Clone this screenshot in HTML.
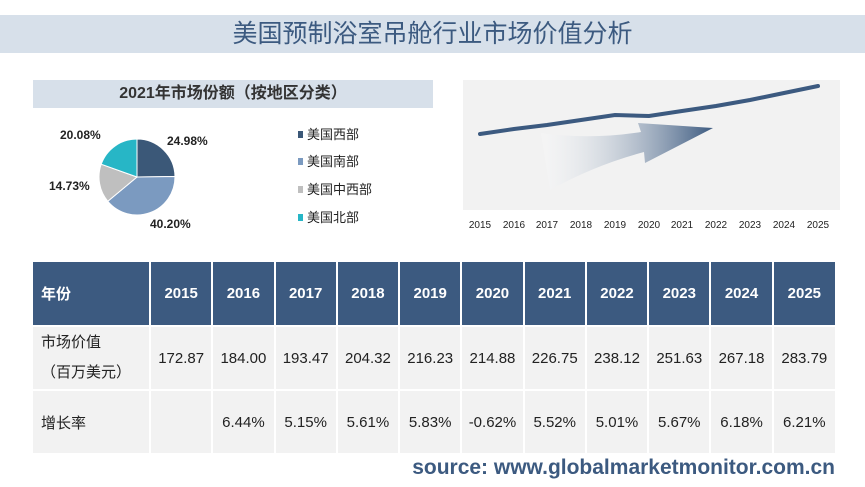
<!DOCTYPE html>
<html><head><meta charset="utf-8"><style>
body{margin:0;width:865px;height:487px;background:#fff;font-family:"Liberation Sans","Noto Sans CJK SC",sans-serif;position:relative;overflow:hidden}
.abs{position:absolute}
table{border-collapse:collapse;position:absolute;left:33px;top:260px;width:802px;table-layout:fixed}
td{padding:0;text-align:center;font-size:15px;color:#222;border-left:2px solid #fff;border-top:2px solid #fff}
tr.h td{background:#3c5a80;color:#fff;font-weight:bold;height:63px;font-size:15px}
tr.r td{background:#f2f2f2;height:62px}
td.f{text-align:left;padding-left:8px;border-left:none}
</style></head><body>
<div class="abs" style="left:0;top:15px;width:865px;height:38px;background:#d7e0ea;text-align:center;line-height:38px;font-size:25px;color:#3c5a80">美国预制浴室吊舱行业市场价值分析</div>
<div class="abs" style="left:33px;top:80px;width:400px;height:28px;background:#d7e0ea;text-align:center;line-height:28px;font-size:16px;font-weight:bold;color:#333">2021年市场份额（按地区分类）</div>
<svg class="abs" style="left:0;top:0" width="865" height="250">
<g transform="translate(137,177)">
<path d="M0,0 L0,-38 A38,38 0 0 1 37.98,-0.5 Z" fill="#3b5878" stroke="#fff" stroke-width="1"/>
<path d="M0,0 L37.98,-0.5 A38,38 0 0 1 -29.2,24.3 Z" fill="#7b9ac0" stroke="#fff" stroke-width="1"/>
<path d="M0,0 L-29.2,24.3 A38,38 0 0 1 -35.8,-12.8 Z" fill="#bfbfbf" stroke="#fff" stroke-width="1"/>
<path d="M0,0 L-35.8,-12.8 A38,38 0 0 1 0,-38 Z" fill="#27b6c6" stroke="#fff" stroke-width="1"/>
</g>
<g font-size="12" font-weight="bold" fill="#222">
<text x="167" y="145">24.98%</text><text x="150" y="228">40.20%</text>
<text x="49" y="190">14.73%</text><text x="60" y="139">20.08%</text></g>
<g font-size="13" fill="#222">
<rect x="298" y="131" width="5" height="7" fill="#3b5878"/><text x="307" y="139">美国西部</text>
<rect x="298" y="158" width="5" height="7" fill="#7b9ac0"/><text x="307" y="166">美国南部</text>
<rect x="298" y="186" width="5" height="7" fill="#bfbfbf"/><text x="307" y="194">美国中西部</text>
<rect x="298" y="214" width="5" height="7" fill="#27b6c6"/><text x="307" y="222">美国北部</text></g>
<rect x="463" y="80" width="377" height="130" fill="#f2f2f2"/>
<defs><linearGradient id="g" x1="0" x2="1"><stop offset="0" stop-color="#fff" stop-opacity="0.2"/><stop offset="1" stop-color="#3c5a80"/></linearGradient></defs>
<path d="M541,133 Q590,140 641,132 L638,123 L713,128 L645,163 L644,152 Q595,165 550,190 Z" fill="url(#g)"/>
<polyline fill="none" stroke="#3c5a80" stroke-width="4" stroke-linecap="round" points="480,134 514,129 547,125 581,120 615,115 649,116 682,111 716,106 750,100 784,93 818,86"/>
<g font-size="10" fill="#222" text-anchor="middle">
<text x="480" y="228">2015</text><text x="514" y="228">2016</text><text x="547" y="228">2017</text><text x="581" y="228">2018</text><text x="615" y="228">2019</text><text x="649" y="228">2020</text><text x="682" y="228">2021</text><text x="716" y="228">2022</text><text x="750" y="228">2023</text><text x="784" y="228">2024</text><text x="818" y="228">2025</text></g>
</svg>
<table>
<colgroup><col style="width:117px"><col span="11"></colgroup>
<tr class="h"><td class="f">年份</td><td>2015</td><td>2016</td><td>2017</td><td>2018</td><td>2019</td><td>2020</td><td>2021</td><td>2022</td><td>2023</td><td>2024</td><td>2025</td></tr>
<tr class="r"><td class="f" style="line-height:30px">市场价值<br>（百万美元）</td><td>172.87</td><td>184.00</td><td>193.47</td><td>204.32</td><td>216.23</td><td>214.88</td><td>226.75</td><td>238.12</td><td>251.63</td><td>267.18</td><td>283.79</td></tr>
<tr class="r"><td class="f">增长率</td><td></td><td>6.44%</td><td>5.15%</td><td>5.61%</td><td>5.83%</td><td>-0.62%</td><td>5.52%</td><td>5.01%</td><td>5.67%</td><td>6.18%</td><td>6.21%</td></tr>
</table>
<div class="abs" style="right:30px;top:456px;font-size:21px;font-weight:bold;color:#3c5a80">source: www.globalmarketmonitor.com.cn</div>
</body></html>
